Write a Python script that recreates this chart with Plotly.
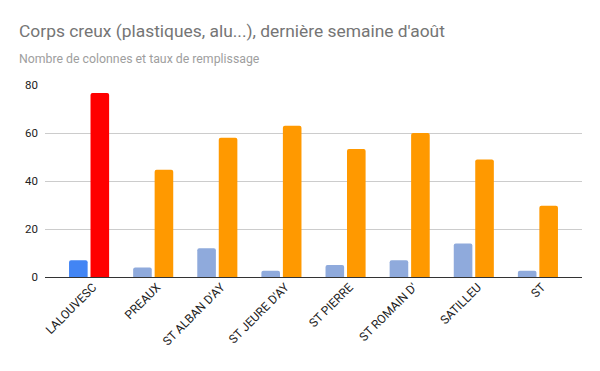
import plotly.graph_objects as go

categories = ["LALOUVESC", "PREAUX", "ST ALBAN D'AY", "ST JEURE D'AY", "ST PIERRE",
              "ST ROMAIN D'", "SATILLEU", "ST"]
colonnes = [7, 4, 12, 2.6, 5, 7, 14, 2.6]
remplissage = [76.7, 44.7, 58, 63, 53.3, 60, 49, 29.7]
y_ticks = [0, 20, 40, 60, 80]

col_colors = ["#4285F4"] + ["#8FAADC"] * (len(categories) - 1)
rem_colors = ["#FF0000"] + ["#FF9900"] * (len(categories) - 1)

font_family = "Roboto, Arial, sans-serif"

fig = go.Figure()
fig.add_trace(go.Bar(x=categories, y=colonnes, marker=dict(color=col_colors, line=dict(width=0)),
                     width=0.29, offset=-0.3125, name="Nombre de colonnes"))
fig.add_trace(go.Bar(x=categories, y=remplissage, marker=dict(color=rem_colors, line=dict(width=0)),
                     width=0.29, offset=0.0225, name="Taux de remplissage"))

fig.update_layout(
    width=600, height=371,
    margin=dict(l=45, r=18, t=85, b=94),
    paper_bgcolor="white", plot_bgcolor="white",
    showlegend=False,
    barcornerradius=2,
    font=dict(family=font_family, color="#222222"),
    xaxis=dict(range=[-0.6875, 7.6875], tickangle=-45, tickfont=dict(size=12, color="#222222"),
               showgrid=False, showline=False, ticks="", fixedrange=True, automargin=False,
               ticklabelshift=4),
    yaxis=dict(range=[0, 80], tickvals=y_ticks, tickfont=dict(size=11.5, color="#222222"),
               gridcolor="#CCCCCC", gridwidth=1, zeroline=True, zerolinecolor="#333333",
               zerolinewidth=1, showline=False, ticks="", ticklabelstandoff=6, automargin=False,
               fixedrange=True),
    annotations=[
        dict(text="Corps creux (plastiques, alu...), dernière semaine d'août", xref="paper", yref="paper",
             x=-0.052, y=1.281, xanchor="left", yanchor="middle", showarrow=False,
             font=dict(size=17.4, color="#757575", family=font_family)),
        dict(text="Nombre de colonnes et taux de remplissage", xref="paper", yref="paper",
             x=-0.052, y=1.138, xanchor="left", yanchor="middle", showarrow=False,
             font=dict(size=12.3, color="#9E9E9E", family=font_family)),
    ],
)

fig.write_html("out.html", config={"displayModeBar": False},
               post_script="document.body.style.margin='0';document.body.style.padding='0';")
